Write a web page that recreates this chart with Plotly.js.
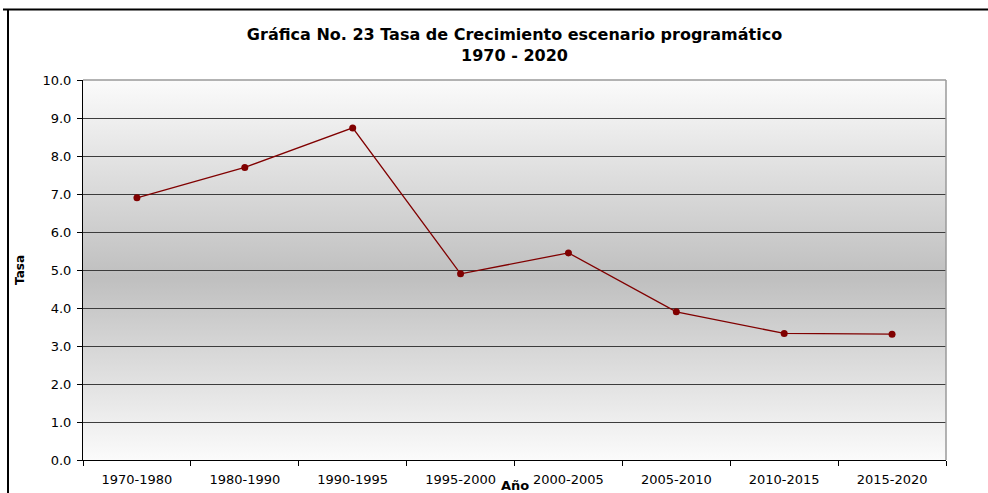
<!DOCTYPE html>
<html>
<head>
<meta charset="utf-8">
<script src="https://cdn.plot.ly/plotly-3.0.1.min.js"></script>
<style>html,body{margin:0;padding:0;background:#fff;}#chart{width:988px;height:493px;}</style>
</head>
<body>
<div id="chart"></div>
<script>
const periods = ["1970-1980","1980-1990","1990-1995","1995-2000","2000-2005","2005-2010","2010-2015","2015-2020"];
const rates = [6.9, 7.7, 8.74, 4.9, 5.45, 3.9, 3.33, 3.31];
const yTicks = [0,1,2,3,4,5,6,7,8,9,10];

const grad = '<svg xmlns="http://www.w3.org/2000/svg" width="100" height="100" preserveAspectRatio="none">' +
  '<defs><linearGradient id="g" x1="0" y1="0" x2="0" y2="1">' +
  '<stop offset="0" stop-color="#fbfbfb"/><stop offset="0.52" stop-color="#bfbfbf"/><stop offset="1" stop-color="#fbfbfb"/>' +
  '</linearGradient></defs><rect width="100" height="100" fill="url(#g)"/></svg>';
const gradUri = 'data:image/svg+xml;charset=utf-8,' + encodeURIComponent(grad);

const trace = {
  x: periods, y: rates, type: 'scatter', mode: 'lines+markers',
  line: {color: '#800000', width: 1.3},
  marker: {color: '#800000', size: 7, symbol: 'circle'},
  cliponaxis: false, hoverinfo: 'x+y'
};

const F = 'DejaVu Sans, Liberation Sans, Arial, sans-serif';
const layout = {
  width: 988, height: 493,
  margin: {l: 83, r: 42, t: 80, b: 33, pad: 0},
  paper_bgcolor: '#ffffff', plot_bgcolor: 'rgba(0,0,0,0)',
  showlegend: false,
  title: {text: '<b>Gráfica No. 23 Tasa de Crecimiento escenario programático<br>1970 - 2020</b>',
          font: {family: F, size: 16, color: '#000'}, x: 0.5, xanchor: 'center', xref: 'paper',
          yref: 'container', y: 0.919, yanchor: 'middle'},
  xaxis: {type: 'category', range: [-0.5, 7.5], tickson: 'boundaries', ticks: 'outside', ticklen: 5, tickcolor: '#000',
          showgrid: false, showline: true, linecolor: '#000', linewidth: 1, ticklabelstandoff: 7,
          tickfont: {family: F, size: 13, color: '#000'}, zeroline: false, automargin: false, fixedrange: true},
  yaxis: {range: [0, 10], tickvals: yTicks, tickformat: '.1f', ticks: 'outside', ticklen: 5, tickcolor: '#000',
          showgrid: true, gridcolor: '#3c3c3c', gridwidth: 1, showline: true, linecolor: '#000', linewidth: 1,
          ticklabelstandoff: 3,
          tickfont: {family: F, size: 13, color: '#000'}, zeroline: false, automargin: false, fixedrange: true},
  images: [{source: gradUri, xref: 'paper', yref: 'paper', x: 0, y: 1, sizex: 1, sizey: 1,
            sizing: 'stretch', xanchor: 'left', yanchor: 'top', layer: 'below'}],
  shapes: [
    {type: 'line', xref: 'paper', yref: 'paper', x0: 0, x1: 1, y0: 1, y1: 1, line: {color: '#9a9a9a', width: 1.5}},
    {type: 'line', xref: 'paper', yref: 'paper', x0: 1, x1: 1, y0: 0, y1: 1, line: {color: '#9a9a9a', width: 1.5}},
    {type: 'line', xref: 'paper', yref: 'paper', x0: -0.0927, x1: 1.06, y0: 1.1855, y1: 1.1855, line: {color: '#000', width: 2}},
    {type: 'line', xref: 'paper', yref: 'paper', x0: -0.0869, x1: -0.0869, y0: 1.1855, y1: -0.2, line: {color: '#000', width: 2}}
  ],
  annotations: [
    {text: '<b>Tasa</b>', xref: 'paper', yref: 'paper', x: -0.073, y: 0.5, xanchor: 'center', yanchor: 'middle',
     textangle: -90, showarrow: false, font: {family: F, size: 12, color: '#000'}},
    {text: '<b>Año</b>', xref: 'paper', yref: 'paper', x: 0.5, y: -0.068, xanchor: 'center', yanchor: 'middle',
     showarrow: false, font: {family: F, size: 13, color: '#000'}}
  ]
};

Plotly.newPlot('chart', [trace], layout, {displayModeBar: false, staticPlot: true});
</script>
</body>
</html>
